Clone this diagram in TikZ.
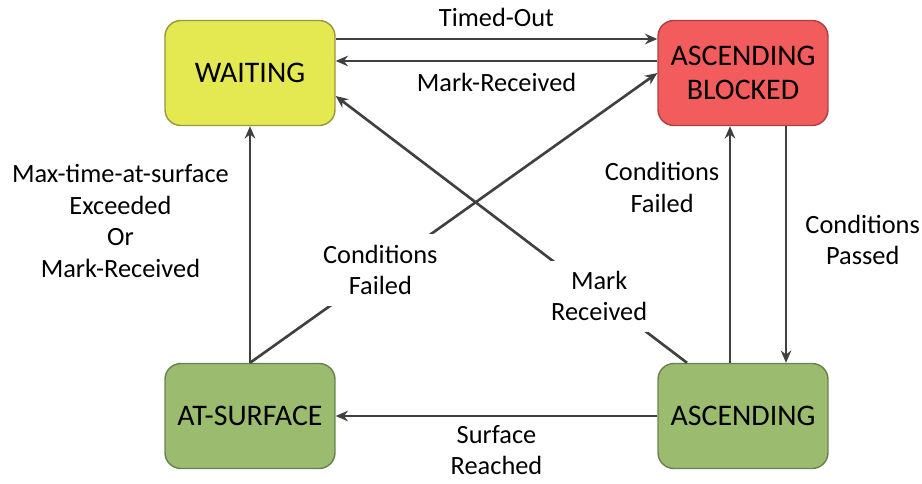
\documentclass[tikz,border=0pt]{standalone}
\usepackage{fontspec}
\setmainfont{Carlito}
\usepackage{tikz}
\usetikzlibrary{positioning,calc,arrows.meta}
\definecolor{waitfill}{RGB}{228,233,82}
\definecolor{waitline}{RGB}{150,150,60}
\definecolor{blockfill}{RGB}{242,92,92}
\definecolor{blockline}{RGB}{170,65,65}
\definecolor{greenfill}{RGB}{155,187,110}
\definecolor{greenline}{RGB}{105,130,75}
\definecolor{linegray}{RGB}{64,64,64}

\begin{document}
\begin{tikzpicture}[x=0.02cm,y=-0.02cm,
    state/.style={line width=0.8pt,rounded corners=9pt,minimum width=3.4cm,minimum height=2.1cm,align=center,font=\fontsize{17}{19}\selectfont},
    trans/.style={draw=linegray,line width=1.5pt,-{Stealth[length=7pt,width=6pt]}},
    lbl/.style={font=\fontsize{15}{18}\selectfont,align=center,text=black}]
    \useasboundingbox (0,0) rectangle (922,483);
    % States
    \node[state,fill=waitfill,draw=waitline] (waiting) at (250,73) {WAITING};
    \node[state,fill=blockfill,draw=blockline] (blocked) at (743,73) {ASCENDING\\BLOCKED};
    \node[state,fill=greenfill,draw=greenline] (surface) at (250,416) {AT-SURFACE};
    \node[state,fill=greenfill,draw=greenline] (ascending) at (743,416) {ASCENDING};
    % Top transitions
    \draw[trans] ($(waiting.east)+(0,-34)$) -- ($(blocked.west)+(0,-34)$) node[lbl,midway,above=3pt] {Timed-Out};
    \draw[trans] ($(blocked.west)+(0,-12)$) -- ($(waiting.east)+(0,-12)$) node[lbl,midway,below=3pt] {Mark-Received};
    % From AT-SURFACE
    \draw[trans] (surface.north) -- (waiting.south) node[lbl,pos=0.6,left=8pt] {Max-time-at-surface\\Exceeded\\Or\\Mark-Received};
    \draw[trans] (surface.north) -- (blocked.west) node[lbl,pos=0.32,fill=white,inner sep=6pt] {Conditions\\Failed};
    % From ASCENDING
    \draw[trans] ($(ascending.north)+(-56,0)$) -- ($(waiting.east)+(0,23)$) node[lbl,pos=0.25,fill=white,inner sep=6pt] {Mark\\Received};
    \draw[trans] ($(ascending.north)+(-13,0)$) -- ($(blocked.south)+(-13,0)$) node[lbl,pos=0.74,left=2pt] {Conditions\\Failed};
    \draw[trans] ($(blocked.south)+(43,0)$) -- ($(ascending.north)+(43,0)$) node[lbl,pos=0.48,right=7pt] {Conditions\\Passed};
    \draw[trans] (ascending.west) -- (surface.east) node[lbl,midway,below=1pt] {Surface\\Reached};
\end{tikzpicture}
\end{document}
